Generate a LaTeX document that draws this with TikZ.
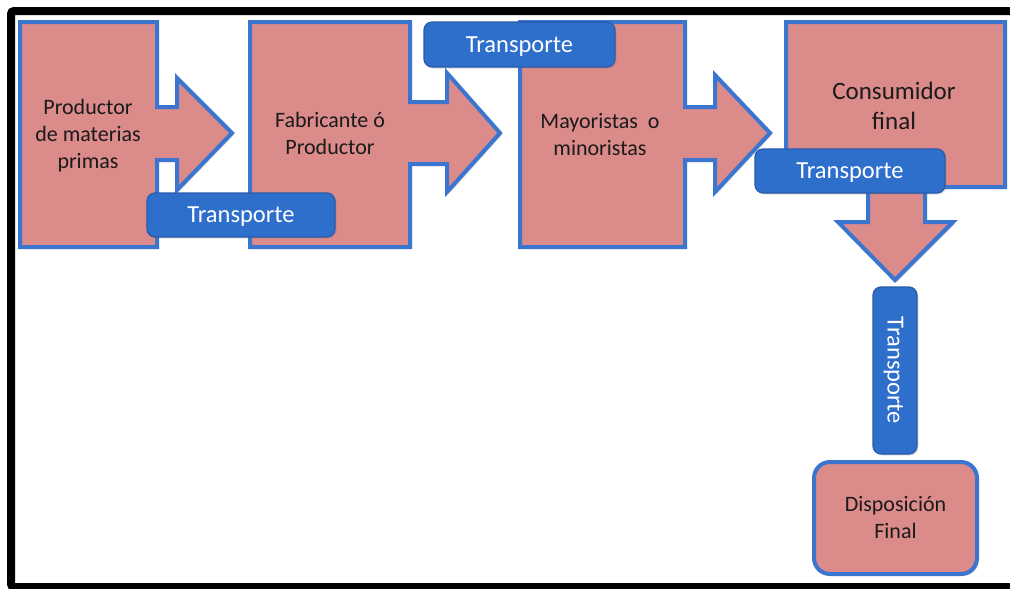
\documentclass[tikz,border=0pt]{standalone}
\usepackage{fontspec}
\setmainfont{Carlito}
\usetikzlibrary{shadows}
\definecolor{stagefill}{HTML}{DC8B8B}
\definecolor{stageline}{HTML}{3A76D0}
\definecolor{tagfill}{HTML}{2F6FCC}
\definecolor{tagline}{HTML}{275BAA}
\definecolor{inktext}{HTML}{1A1A1A}
\tikzset{
  stage/.style={fill=stagefill, draw=stageline, line width=4pt, line join=miter,
    drop shadow={shadow xshift=2pt, shadow yshift=-2pt, opacity=0.25, fill=black!60}},
  stagetext/.style={align=center, text=inktext, font=\fontsize{22}{27}\selectfont},
  tag/.style={fill=tagfill, draw=tagline, line width=1.2pt, rounded corners=8pt,
    text=white, font=\fontsize{24.5}{28}\selectfont, inner sep=0pt,
    text height=20pt, text depth=5pt,
    drop shadow={shadow xshift=1.5pt, shadow yshift=-1.5pt, opacity=0.2, fill=black!60}},
  endbox/.style={stage, rounded corners=16pt, inner sep=0pt}
}
\begin{document}
\begin{tikzpicture}[x=1pt, y=-1pt]
  \useasboundingbox (0,0) rectangle (1010,589);
  % outer frame, open to the right
  \begin{scope}
    \clip (0,0) rectangle (1010,589);
    \draw[line width=8pt, rounded corners=3pt] (1030,11) -- (11,11) -- (11,587) -- (1030,587);
  \end{scope}

  % stage 1: raw material producer with right arrow
  \draw[stage] (20,22) -- (157,22) -- (157,107) -- (177,107) -- (177,78) -- (232,133)
    -- (177,190) -- (177,160) -- (157,160) -- (157,247) -- (20,247) -- cycle;
  \node[stagetext] (prod) at (88,136) {Productor\\de materias\\primas};

  % stage 2: manufacturer with right arrow
  \draw[stage] (250,22) -- (410,22) -- (410,102) -- (447,102) -- (447,73) -- (500,133)
    -- (447,192) -- (447,164) -- (410,164) -- (410,247) -- (250,247) -- cycle;
  \node[stagetext] (fab) at (330,133) {Fabricante ó\\Productor};

  % stage 3: wholesalers / retailers with right arrow
  \draw[stage] (520,22) -- (685,22) -- (685,107) -- (715,107) -- (715,75) -- (770,133)
    -- (715,192) -- (715,160) -- (685,160) -- (685,247) -- (520,247) -- cycle;
  \node[stagetext] (may) at (600,135) {Mayoristas~ o\\minoristas};

  % stage 4: final consumer with down arrow
  \draw[stage] (786,22) -- (1005,22) -- (1005,187) -- (925,187) -- (925,222) -- (953,222)
    -- (895,280) -- (838,222) -- (868,222) -- (868,187) -- (786,187) -- cycle;
  \node[stagetext, font=\fontsize{25}{30}\selectfont] (cons) at (894,106) {Consumidor\\final};

  % final disposal
  \node[endbox, minimum width=163pt, minimum height=112pt, stagetext] (disp) at (895.5,518)
    {Disposición\\Final};

  % transport tags
  \node[tag, minimum width=188pt, minimum height=44pt] (t1) at (241,215) {Transporte};
  \node[tag, minimum width=191pt, minimum height=45pt] (t2) at (519.5,44.5) {Transporte};
  \node[tag, minimum width=190pt, minimum height=44pt] (t3) at (850,171) {Transporte};
  \node[tag, rotate=-90, minimum width=167pt, minimum height=44pt] (t4) at (895,370.5) {Transporte};
\end{tikzpicture}
\end{document}
